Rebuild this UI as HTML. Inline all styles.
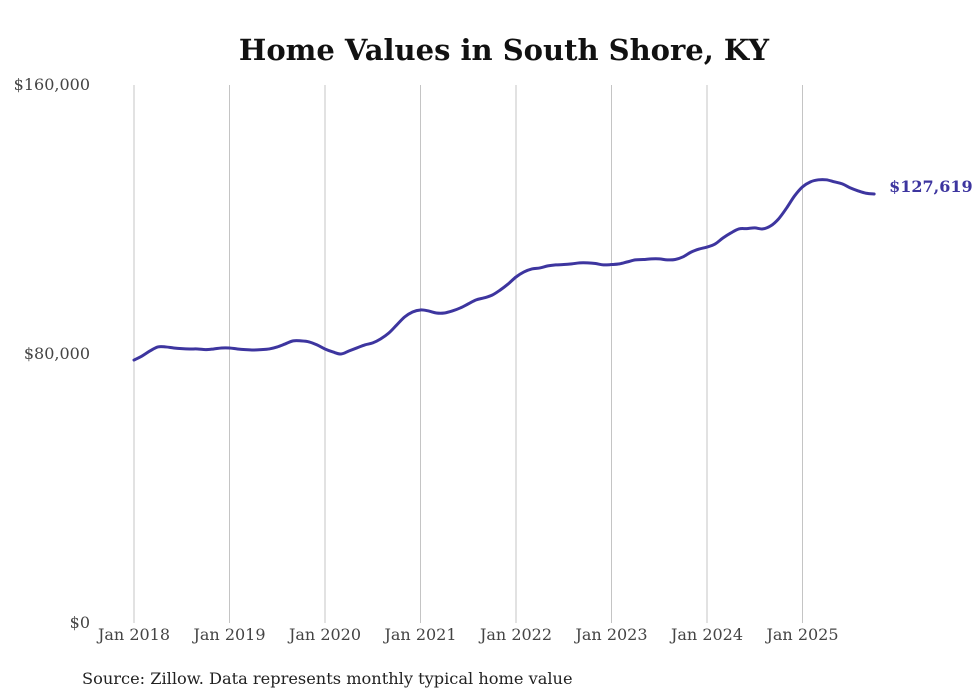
<!DOCTYPE html>
<html><head><meta charset="utf-8"><style>
html,body{margin:0;padding:0;background:#fff;}
svg{display:block;}
</style></head><body>
<svg id="chart" width="980" height="699" viewBox="0 0 980 699" xmlns="http://www.w3.org/2000/svg">
<text x="504" y="60" text-anchor="middle" font-family="DejaVu Serif, serif" font-weight="bold" font-size="29" fill="#111">Home Values in South Shore, KY</text>
<g id="grid"></g><g id="yaxis"></g><g id="xaxis"></g><g id="series"></g>
<text x="82" y="684" font-family="DejaVu Serif, serif" font-size="16.2" fill="#222">Source: Zillow. Data represents monthly typical home value</text>
</svg>
<script>
const yTicks=[0,80000,160000];
const yTickLabels=["$0","$80,000","$160,000"];
const xTickYears=[2018,2019,2020,2021,2022,2023,2024,2025];
const xTickLabels=["Jan 2018","Jan 2019","Jan 2020","Jan 2021","Jan 2022","Jan 2023","Jan 2024","Jan 2025"];
const startYear=2018;
const valuesK=[78.2,79.4,80.9,82.1,82.1,81.8,81.6,81.5,81.5,81.3,81.5,81.8,
81.8,81.5,81.3,81.2,81.3,81.5,82.1,83.0,83.9,83.9,83.6,82.7,
81.5,80.6,80.0,80.9,81.8,82.7,83.3,84.5,86.2,88.6,91.0,92.5,
93.1,92.8,92.2,92.2,92.8,93.7,94.9,96.1,96.7,97.5,99.0,100.8,
102.9,104.4,105.3,105.6,106.2,106.5,106.6,106.8,107.1,107.1,106.9,106.5,
106.6,106.8,107.4,108.0,108.1,108.3,108.3,108.0,108.1,108.9,110.3,111.2,
111.8,112.7,114.5,116.0,117.2,117.3,117.5,117.2,118.1,120.2,123.4,127.0,
129.7,131.2,131.8,131.8,131.2,130.6,129.4,128.5,127.8,127.6];
const lastLabel="$127,619";
const NS="http://www.w3.org/2000/svg";
const x0=134,pxPerYear=95.5,y0=623,yTop=85,yMax=160000;
const xs=m=>x0+m*pxPerYear/12;
const ys=v=>y0-(v/yMax)*(y0-yTop);
function mk(t,a,parent){const e=document.createElementNS(NS,t);for(const k in a)e.setAttribute(k,a[k]);parent.appendChild(e);return e;}
const grid=document.getElementById('grid'),ya=document.getElementById('yaxis'),xa=document.getElementById('xaxis'),se=document.getElementById('series');
xTickYears.forEach((yr,i)=>{
 const x=xs((yr-startYear)*12);
 const l=mk('line',{x1:x,x2:x,y1:yTop,y2:y0,stroke:'#c4c4c4','stroke-width':1},grid);
 
 
 const t=mk('text',{x:x,y:640,'text-anchor':'middle','font-family':'DejaVu Serif, serif','font-size':16,fill:'#444'},xa);
 t.textContent=xTickLabels[i];
 
 
});
yTicks.forEach((v,i)=>{
 const t=mk('text',{x:90,y:ys(v)+5,'text-anchor':'end','font-family':'DejaVu Serif, serif','font-size':16,fill:'#444'},ya);
 t.textContent=yTickLabels[i];
 
 
});
const pts=valuesK.map((v,i)=>[xs(i),ys(v*1000)]);
let d='M'+pts[0][0]+','+pts[0][1];
for(let i=0;i<pts.length-1;i++){
 const p0=pts[Math.max(0,i-1)],p1=pts[i],p2=pts[i+1],p3=pts[Math.min(pts.length-1,i+2)];
 const c1x=p1[0]+(p2[0]-p0[0])/6,c1y=p1[1]+(p2[1]-p0[1])/6;
 const c2x=p2[0]-(p3[0]-p1[0])/6,c2y=p2[1]-(p3[1]-p1[1])/6;
 d+=' C'+c1x+','+c1y+' '+c2x+','+c2y+' '+p2[0]+','+p2[1];
}
const path=mk('path',{d:d,fill:'none',stroke:'#3d359f','stroke-width':3,'stroke-linejoin':'round','stroke-linecap':'round'},se);


const last=pts[pts.length-1];
const lt=mk('text',{x:last[0]+15,y:last[1]-2,'font-family':'DejaVu Serif, serif','font-weight':'bold','font-size':16,fill:'#3d359f'},se);
lt.textContent=lastLabel;


</script>
</body></html>
